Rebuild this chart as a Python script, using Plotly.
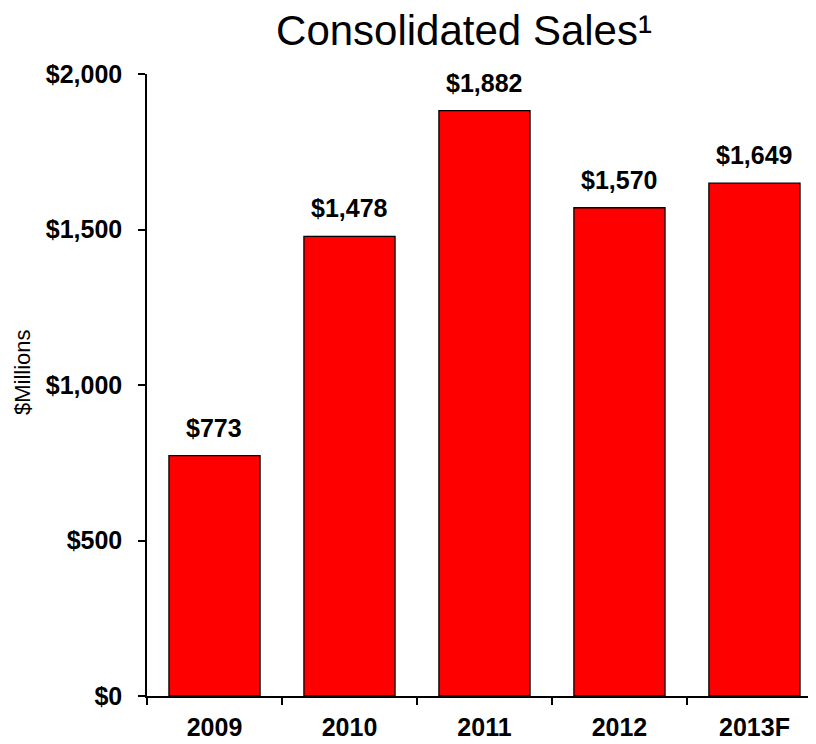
import plotly.graph_objects as go

years = ["2009", "2010", "2011", "2012", "2013F"]
sales = [773, 1478, 1882, 1570, 1649]
label_text = ["$773", "$1,478", "$1,882", "$1,570", "$1,649"]
y_ticks = [0, 500, 1000, 1500, 2000]
y_tick_text = ["$0", "$500", "$1,000", "$1,500", "$2,000"]

FONT = "Liberation Sans, Arial, sans-serif"
# page body has an 8px margin: figure starts at (8, 8) in the window
W, H = 808, 736
L, T, B, R = 139, 66, 48, 0
PW, PH = W - L - R, H - T - B

fig = go.Figure(go.Bar(
    x=years, y=sales,
    marker=dict(color="#FF0000", line=dict(color="black", width=1.3)),
    width=0.675, hoverinfo="x+y",
))

annotations = []
for i, (v, t) in enumerate(zip(sales, label_text)):
    annotations.append(dict(x=i, y=v, xref="x", yref="y", text="<b>%s</b>" % t, showarrow=False,
                            yanchor="bottom", xanchor="center", yshift=12,
                            font=dict(family=FONT, size=25, color="black")))

# y axis title, positioned in pixels of the window
ax_px, ay_px = 22, 372
annotations.append(dict(text="$Millions", textangle=-90, xref="paper", yref="paper",
                        x=(ax_px - 8 - L) / PW, y=(T + PH + 8 - ay_px) / PH,
                        xanchor="center", yanchor="middle", showarrow=False,
                        font=dict(family=FONT, size=22, color="black")))

fig.update_layout(
    width=W, height=H,
    margin=dict(l=L, r=R, t=T, b=B, pad=0),
    plot_bgcolor="white", paper_bgcolor="white",
    showlegend=False,
    font=dict(family=FONT, color="black"),
    title=dict(text="Consolidated Sales\u00b9",
               font=dict(family=FONT, size=42, color="black"),
               x=(464 - 8 - L) / PW, xref="paper", xanchor="center", y=0.99, yref="container", yanchor="top"),
    xaxis=dict(type="category", range=[-0.5, 4.456], showline=True, linecolor="black", linewidth=1.5,
               ticks="outside", tickson="boundaries", ticklen=7, tickcolor="black", tickwidth=1.5,
               tickfont=dict(family=FONT, size=25, color="black"), ticklabelstandoff=8,
               tickvals=years, ticktext=["<b>%s</b>" % y for y in years], showgrid=False),
    yaxis=dict(range=[0, 2000], tickvals=y_ticks, ticktext=["<b>%s</b>" % t for t in y_tick_text],
               showline=True, linecolor="black", linewidth=1.5, ticks="outside", ticklen=7,
               tickcolor="black", tickwidth=1.5, showgrid=False, zeroline=False,
               tickfont=dict(family=FONT, size=25, color="black"), ticklabelstandoff=11),
    annotations=annotations,
)

fig.write_html("out.html")
